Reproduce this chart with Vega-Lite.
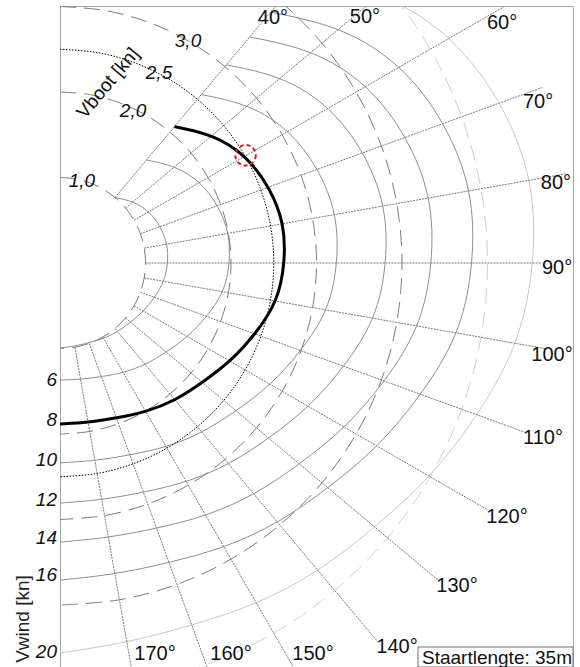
{
  "$schema": "https://vega.github.io/schema/vega-lite/v6.json",
  "width": 513,
  "height": 661,
  "padding": {"left": 60, "top": 6, "right": 7, "bottom": 0},
  "autosize": {"type": "none"},
  "config": {"view": {"stroke": "#a6a6a6", "strokeWidth": 1}, "font": "Liberation Sans"},
  "datasets": {
    "circles": [
      {"s":"c1","a":0,"x":0,"y":1},{"s":"c1","a":10,"x":0.174,"y":0.985},{"s":"c1","a":20,"x":0.342,"y":0.94},{"s":"c1","a":30,"x":0.5,"y":0.866},{"s":"c1","a":40,"x":0.643,"y":0.766},{"s":"c1","a":50,"x":0.766,"y":0.643},{"s":"c1","a":60,"x":0.866,"y":0.5},{"s":"c1","a":70,"x":0.94,"y":0.342},{"s":"c1","a":80,"x":0.985,"y":0.174},{"s":"c1","a":90,"x":1,"y":0},{"s":"c1","a":100,"x":0.985,"y":-0.174},{"s":"c1","a":110,"x":0.94,"y":-0.342},{"s":"c1","a":120,"x":0.866,"y":-0.5},{"s":"c1","a":130,"x":0.766,"y":-0.643},{"s":"c1","a":140,"x":0.643,"y":-0.766},{"s":"c1","a":150,"x":0.5,"y":-0.866},{"s":"c1","a":160,"x":0.342,"y":-0.94},{"s":"c1","a":170,"x":0.174,"y":-0.985},{"s":"c1","a":180,"x":0,"y":-1},
      {"s":"c2","a":0,"x":0,"y":2},{"s":"c2","a":10,"x":0.347,"y":1.97},{"s":"c2","a":20,"x":0.684,"y":1.879},{"s":"c2","a":30,"x":1,"y":1.732},{"s":"c2","a":40,"x":1.286,"y":1.532},{"s":"c2","a":50,"x":1.532,"y":1.286},{"s":"c2","a":60,"x":1.732,"y":1},{"s":"c2","a":70,"x":1.879,"y":0.684},{"s":"c2","a":80,"x":1.97,"y":0.347},{"s":"c2","a":90,"x":2,"y":0},{"s":"c2","a":100,"x":1.97,"y":-0.347},{"s":"c2","a":110,"x":1.879,"y":-0.684},{"s":"c2","a":120,"x":1.732,"y":-1},{"s":"c2","a":130,"x":1.532,"y":-1.286},{"s":"c2","a":140,"x":1.286,"y":-1.532},{"s":"c2","a":150,"x":1,"y":-1.732},{"s":"c2","a":160,"x":0.684,"y":-1.879},{"s":"c2","a":170,"x":0.347,"y":-1.97},{"s":"c2","a":180,"x":0,"y":-2},
      {"s":"c3","a":0,"x":0,"y":3},{"s":"c3","a":10,"x":0.521,"y":2.954},{"s":"c3","a":20,"x":1.026,"y":2.819},{"s":"c3","a":30,"x":1.5,"y":2.598},{"s":"c3","a":40,"x":1.928,"y":2.298},{"s":"c3","a":50,"x":2.298,"y":1.928},{"s":"c3","a":60,"x":2.598,"y":1.5},{"s":"c3","a":70,"x":2.819,"y":1.026},{"s":"c3","a":80,"x":2.954,"y":0.521},{"s":"c3","a":90,"x":3,"y":0},{"s":"c3","a":100,"x":2.954,"y":-0.521},{"s":"c3","a":110,"x":2.819,"y":-1.026},{"s":"c3","a":120,"x":2.598,"y":-1.5},{"s":"c3","a":130,"x":2.298,"y":-1.928},{"s":"c3","a":140,"x":1.928,"y":-2.298},{"s":"c3","a":150,"x":1.5,"y":-2.598},{"s":"c3","a":160,"x":1.026,"y":-2.819},{"s":"c3","a":170,"x":0.521,"y":-2.954},{"s":"c3","a":180,"x":0,"y":-3},
      {"s":"c4","a":0,"x":0,"y":4},{"s":"c4","a":10,"x":0.695,"y":3.939},{"s":"c4","a":20,"x":1.368,"y":3.759},{"s":"c4","a":30,"x":2,"y":3.464},{"s":"c4","a":40,"x":2.571,"y":3.064},{"s":"c4","a":50,"x":3.064,"y":2.571},{"s":"c4","a":60,"x":3.464,"y":2},{"s":"c4","a":70,"x":3.759,"y":1.368},{"s":"c4","a":80,"x":3.939,"y":0.695},{"s":"c4","a":90,"x":4,"y":0},{"s":"c4","a":100,"x":3.939,"y":-0.695},{"s":"c4","a":110,"x":3.759,"y":-1.368},{"s":"c4","a":120,"x":3.464,"y":-2},{"s":"c4","a":130,"x":3.064,"y":-2.571},{"s":"c4","a":140,"x":2.571,"y":-3.064},{"s":"c4","a":150,"x":2,"y":-3.464},{"s":"c4","a":160,"x":1.368,"y":-3.759},{"s":"c4","a":170,"x":0.695,"y":-3.939},{"s":"c4","a":180,"x":0,"y":-4},
      {"s":"c5","a":0,"x":0,"y":5},{"s":"c5","a":10,"x":0.868,"y":4.924},{"s":"c5","a":20,"x":1.71,"y":4.698},{"s":"c5","a":30,"x":2.5,"y":4.33},{"s":"c5","a":40,"x":3.214,"y":3.83},{"s":"c5","a":50,"x":3.83,"y":3.214},{"s":"c5","a":60,"x":4.33,"y":2.5},{"s":"c5","a":70,"x":4.698,"y":1.71},{"s":"c5","a":80,"x":4.924,"y":0.868},{"s":"c5","a":90,"x":5,"y":0},{"s":"c5","a":100,"x":4.924,"y":-0.868},{"s":"c5","a":110,"x":4.698,"y":-1.71},{"s":"c5","a":120,"x":4.33,"y":-2.5},{"s":"c5","a":130,"x":3.83,"y":-3.214},{"s":"c5","a":140,"x":3.214,"y":-3.83},{"s":"c5","a":150,"x":2.5,"y":-4.33},{"s":"c5","a":160,"x":1.71,"y":-4.698},{"s":"c5","a":170,"x":0.868,"y":-4.924},{"s":"c5","a":180,"x":0,"y":-5},
      {"s":"c25","a":0,"x":0,"y":2.5},{"s":"c25","a":10,"x":0.434,"y":2.462},{"s":"c25","a":20,"x":0.855,"y":2.349},{"s":"c25","a":30,"x":1.25,"y":2.165},{"s":"c25","a":40,"x":1.607,"y":1.915},{"s":"c25","a":50,"x":1.915,"y":1.607},{"s":"c25","a":60,"x":2.165,"y":1.25},{"s":"c25","a":70,"x":2.349,"y":0.855},{"s":"c25","a":80,"x":2.462,"y":0.434},{"s":"c25","a":90,"x":2.5,"y":0},{"s":"c25","a":100,"x":2.462,"y":-0.434},{"s":"c25","a":110,"x":2.349,"y":-0.855},{"s":"c25","a":120,"x":2.165,"y":-1.25},{"s":"c25","a":130,"x":1.915,"y":-1.607},{"s":"c25","a":140,"x":1.607,"y":-1.915},{"s":"c25","a":150,"x":1.25,"y":-2.165},{"s":"c25","a":160,"x":0.855,"y":-2.349},{"s":"c25","a":170,"x":0.434,"y":-2.462},{"s":"c25","a":180,"x":0,"y":-2.5}
    ],
    "rays": [
      {"a":40,"p":0,"x":0.643,"y":0.766},{"a":40,"p":1,"x":3.857,"y":4.596},
      {"a":50,"p":0,"x":0.766,"y":0.643},{"a":50,"p":1,"x":4.596,"y":3.857},
      {"a":60,"p":0,"x":0.866,"y":0.5},{"a":60,"p":1,"x":5.196,"y":3.0},
      {"a":70,"p":0,"x":0.94,"y":0.342},{"a":70,"p":1,"x":5.638,"y":2.052},
      {"a":80,"p":0,"x":0.985,"y":0.174},{"a":80,"p":1,"x":5.909,"y":1.042},
      {"a":90,"p":0,"x":1,"y":0},{"a":90,"p":1,"x":5.62,"y":0},
      {"a":100,"p":0,"x":0.985,"y":-0.174},{"a":100,"p":1,"x":5.692,"y":-1.004},
      {"a":110,"p":0,"x":0.94,"y":-0.342},{"a":110,"p":1,"x":5.431,"y":-1.977},
      {"a":120,"p":0,"x":0.866,"y":-0.5},{"a":120,"p":1,"x":5.006,"y":-2.89},
      {"a":130,"p":0,"x":0.766,"y":-0.643},{"a":130,"p":1,"x":4.428,"y":-3.715},
      {"a":140,"p":0,"x":0.643,"y":-0.766},{"a":140,"p":1,"x":3.715,"y":-4.428},
      {"a":150,"p":0,"x":0.5,"y":-0.866},{"a":150,"p":1,"x":3,"y":-5.196},
      {"a":160,"p":0,"x":0.342,"y":-0.94},{"a":160,"p":1,"x":2.052,"y":-5.638},
      {"a":170,"p":0,"x":0.174,"y":-0.985},{"a":170,"p":1,"x":1.042,"y":-5.909}
    ],
    "polars": [
      {"w":4,"a":40,"x":0.642,"y":0.765},{"w":4,"a":50,"x":0.86,"y":0.722},{"w":4,"a":60,"x":1.046,"y":0.604},{"w":4,"a":70,"x":1.176,"y":0.428},{"w":4,"a":80,"x":1.26,"y":0.222},{"w":4,"a":90,"x":1.263,"y":0},{"w":4,"a":100,"x":1.221,"y":-0.215},{"w":4,"a":110,"x":1.107,"y":-0.403},{"w":4,"a":120,"x":0.978,"y":-0.565},{"w":4,"a":130,"x":0.826,"y":-0.693},{"w":4,"a":140,"x":0.675,"y":-0.805},{"w":4,"a":150,"x":0.51,"y":-0.884},{"w":4,"a":160,"x":0.34,"y":-0.933},{"w":4,"a":170,"x":0.172,"y":-0.973},{"w":4,"a":180,"x":0,"y":-0.994},
      {"w":6,"a":40,"x":1.011,"y":1.205},{"w":6,"a":50,"x":1.354,"y":1.136},{"w":6,"a":60,"x":1.646,"y":0.95},{"w":6,"a":70,"x":1.851,"y":0.674},{"w":6,"a":80,"x":1.983,"y":0.35},{"w":6,"a":90,"x":1.988,"y":0},{"w":6,"a":100,"x":1.923,"y":-0.339},{"w":6,"a":110,"x":1.72,"y":-0.626},{"w":6,"a":120,"x":1.496,"y":-0.864},{"w":6,"a":130,"x":1.243,"y":-1.043},{"w":6,"a":140,"x":0.999,"y":-1.191},{"w":6,"a":150,"x":0.742,"y":-1.285},{"w":6,"a":160,"x":0.484,"y":-1.33},{"w":6,"a":170,"x":0.24,"y":-1.362},{"w":6,"a":180,"x":0,"y":-1.368},
      {"w":10,"a":40,"x":1.653,"y":1.97},{"w":10,"a":50,"x":2.214,"y":1.858},{"w":10,"a":60,"x":2.692,"y":1.554},{"w":10,"a":70,"x":3.027,"y":1.102},{"w":10,"a":80,"x":3.243,"y":0.572},{"w":10,"a":90,"x":3.251,"y":0},{"w":10,"a":100,"x":3.144,"y":-0.554},{"w":10,"a":110,"x":2.823,"y":-1.027},{"w":10,"a":120,"x":2.469,"y":-1.426},{"w":10,"a":130,"x":2.062,"y":-1.73},{"w":10,"a":140,"x":1.667,"y":-1.987},{"w":10,"a":150,"x":1.245,"y":-2.156},{"w":10,"a":160,"x":0.817,"y":-2.246},{"w":10,"a":170,"x":0.408,"y":-2.314},{"w":10,"a":180,"x":0,"y":-2.337},
      {"w":12,"a":40,"x":1.945,"y":2.318},{"w":12,"a":50,"x":2.605,"y":2.186},{"w":12,"a":60,"x":3.167,"y":1.828},{"w":12,"a":70,"x":3.562,"y":1.296},{"w":12,"a":80,"x":3.816,"y":0.673},{"w":12,"a":90,"x":3.825,"y":0},{"w":12,"a":100,"x":3.699,"y":-0.652},{"w":12,"a":110,"x":3.328,"y":-1.211},{"w":12,"a":120,"x":2.918,"y":-1.685},{"w":12,"a":130,"x":2.444,"y":-2.051},{"w":12,"a":140,"x":1.979,"y":-2.359},{"w":12,"a":150,"x":1.482,"y":-2.567},{"w":12,"a":160,"x":0.977,"y":-2.683},{"w":12,"a":170,"x":0.489,"y":-2.772},{"w":12,"a":180,"x":0,"y":-2.808},
      {"w":14,"a":40,"x":2.219,"y":2.644},{"w":14,"a":50,"x":2.971,"y":2.493},{"w":14,"a":60,"x":3.612,"y":2.085},{"w":14,"a":70,"x":4.063,"y":1.479},{"w":14,"a":80,"x":4.353,"y":0.767},{"w":14,"a":90,"x":4.363,"y":0},{"w":14,"a":100,"x":4.219,"y":-0.744},{"w":14,"a":110,"x":3.805,"y":-1.385},{"w":14,"a":120,"x":3.34,"y":-1.929},{"w":14,"a":130,"x":2.804,"y":-2.353},{"w":14,"a":140,"x":2.277,"y":-2.714},{"w":14,"a":150,"x":1.71,"y":-2.963},{"w":14,"a":160,"x":1.13,"y":-3.104},{"w":14,"a":170,"x":0.567,"y":-3.214},{"w":14,"a":180,"x":0,"y":-3.264},
      {"w":16,"a":40,"x":2.462,"y":2.934},{"w":16,"a":50,"x":3.297,"y":2.767},{"w":16,"a":60,"x":4.009,"y":2.314},{"w":16,"a":70,"x":4.509,"y":1.641},{"w":16,"a":80,"x":4.83,"y":0.852},{"w":16,"a":90,"x":4.842,"y":0},{"w":16,"a":100,"x":4.683,"y":-0.826},{"w":16,"a":110,"x":4.231,"y":-1.54},{"w":16,"a":120,"x":3.726,"y":-2.151},{"w":16,"a":130,"x":3.138,"y":-2.633},{"w":16,"a":140,"x":2.555,"y":-3.045},{"w":16,"a":150,"x":1.925,"y":-3.333},{"w":16,"a":160,"x":1.276,"y":-3.506},{"w":16,"a":170,"x":0.642,"y":-3.643},{"w":16,"a":180,"x":0,"y":-3.709},
      {"w":20,"a":40,"x":2.825,"y":3.366},{"w":20,"a":50,"x":3.784,"y":3.175},{"w":20,"a":60,"x":4.6,"y":2.656},{"w":20,"a":70,"x":5.174,"y":1.883},{"w":20,"a":80,"x":5.543,"y":0.977},{"w":20,"a":90,"x":5.556,"y":0},{"w":20,"a":100,"x":5.373,"y":-0.947},{"w":20,"a":110,"x":4.892,"y":-1.781},{"w":20,"a":120,"x":4.34,"y":-2.506},{"w":20,"a":130,"x":3.685,"y":-3.092},{"w":20,"a":140,"x":3.03,"y":-3.611},{"w":20,"a":150,"x":2.306,"y":-3.993},{"w":20,"a":160,"x":1.543,"y":-4.239},{"w":20,"a":170,"x":0.783,"y":-4.443},{"w":20,"a":180,"x":0,"y":-4.561}
    ],
    "thick": [
      {"a":40,"x":1.338,"y":1.595},{"a":50,"x":1.792,"y":1.503},{"a":60,"x":2.178,"y":1.258},{"a":70,"x":2.451,"y":0.892},{"a":80,"x":2.626,"y":0.463},{"a":90,"x":2.632,"y":0},{"a":100,"x":2.546,"y":-0.449},{"a":110,"x":2.286,"y":-0.832},{"a":120,"x":1.995,"y":-1.152},{"a":130,"x":1.666,"y":-1.398},{"a":140,"x":1.35,"y":-1.609},{"a":150,"x":1.006,"y":-1.742},{"a":160,"x":0.66,"y":-1.814},{"a":170,"x":0.329,"y":-1.866},{"a":180,"x":0,"y":-1.883}
    ],
    "deg": [
      {"t":"40°","x":2.491,"y":2.865},{"t":"50°","x":3.567,"y":2.877},{"t":"60°","x":5.17,"y":2.807},{"t":"70°","x":5.591,"y":1.883},{"t":"80°","x":5.801,"y":0.936},{"t":"90°","x":5.813,"y":-0.058},{"t":"100°","x":5.754,"y":-1.076},{"t":"110°","x":5.649,"y":-2.047},{"t":"120°","x":5.228,"y":-2.971},{"t":"130°","x":4.643,"y":-3.778},{"t":"140°","x":3.942,"y":-4.491},{"t":"150°","x":2.959,"y":-4.573},{"t":"160°","x":2.0,"y":-4.573},{"t":"170°","x":1.111,"y":-4.573}
    ],
    "wind": [
      {"t":"6","x":0,"y":-1.368},{"t":"8","x":0,"y":-1.836},{"t":"10","x":0,"y":-2.304},{"t":"12","x":0,"y":-2.772},{"t":"14","x":0,"y":-3.216},{"t":"16","x":0,"y":-3.649},{"t":"20","x":0,"y":-4.55}
    ],
    "boot": [
      {"t":"1,0","x":0.257,"y":0.959},{"t":"2,0","x":0.854,"y":1.778},{"t":"2,5","x":1.158,"y":2.222},{"t":"3,0","x":1.497,"y":2.596}
    ]
  },
  "encoding": {
    "x": {"field": "x", "type": "quantitative", "scale": {"domain": [0, 6], "nice": false, "zero": false}, "axis": null},
    "y": {"field": "y", "type": "quantitative", "scale": {"domain": [-4.725, 3.006], "nice": false, "zero": false}, "axis": null}
  },
  "layer": [
    {
      "data": {"name": "polars"},
      "transform": [{"filter": "datum.w != 20"}],
      "mark": {"type": "line", "interpolate": "basis", "clip": true, "color": "#8f8f8f", "strokeWidth": 1},
      "encoding": {"detail": {"field": "w"}, "order": {"field": "a", "type": "quantitative"}}
    },
    {
      "data": {"name": "polars"},
      "transform": [{"filter": "datum.w == 20"}],
      "mark": {"type": "line", "interpolate": "basis", "clip": true, "color": "#c8c8c8", "strokeWidth": 1},
      "encoding": {"order": {"field": "a", "type": "quantitative"}}
    },
    {
      "data": {"name": "circles"},
      "transform": [{"filter": "datum.s == 'c1' || datum.s == 'c2' || datum.s == 'c3' || datum.s == 'c4'"}],
      "mark": {"type": "line", "interpolate": "catmull-rom", "clip": true, "color": "#7d7d7d", "strokeWidth": 1, "strokeDash": [16, 8]},
      "encoding": {"detail": {"field": "s"}, "order": {"field": "a", "type": "quantitative"}}
    },
    {
      "data": {"name": "circles"},
      "transform": [{"filter": "datum.s == 'c5'"}],
      "mark": {"type": "line", "interpolate": "catmull-rom", "clip": true, "color": "#d0d0d0", "strokeWidth": 1, "strokeDash": [16, 8]},
      "encoding": {"order": {"field": "a", "type": "quantitative"}}
    },
    {
      "data": {"name": "rays"},
      "mark": {"type": "line", "clip": true, "color": "#7a7a7a", "strokeWidth": 1, "strokeDash": [2, 1]},
      "encoding": {"detail": {"field": "a"}, "order": {"field": "p", "type": "quantitative"}}
    },
    {
      "data": {"name": "circles"},
      "transform": [{"filter": "datum.s == 'c25'"}],
      "mark": {"type": "line", "interpolate": "catmull-rom", "clip": true, "color": "#000000", "strokeWidth": 1, "strokeDash": [1.5, 1.5]},
      "encoding": {"order": {"field": "a", "type": "quantitative"}}
    },
    {
      "data": {"name": "thick"},
      "mark": {"type": "line", "interpolate": "basis", "clip": true, "color": "#000000", "strokeWidth": 3},
      "encoding": {"order": {"field": "a", "type": "quantitative"}}
    },
    {
      "data": {"values": [{"x": 2.17, "y": 1.26}]},
      "mark": {"type": "point", "shape": "circle", "filled": false, "size": 420, "stroke": "#e8131b", "strokeWidth": 2, "strokeDash": [4, 3], "opacity": 1}
    },
    {
      "data": {"name": "deg"},
      "mark": {"type": "text", "fontSize": 20, "align": "center", "baseline": "middle", "color": "#111111"},
      "encoding": {"text": {"field": "t"}}
    },
    {
      "data": {"name": "wind"},
      "mark": {"type": "text", "fontSize": 19, "fontStyle": "italic", "align": "right", "baseline": "middle", "dx": -3, "color": "#111111"},
      "encoding": {"text": {"field": "t"}}
    },
    {
      "data": {"name": "boot"},
      "mark": {"type": "text", "fontSize": 19, "fontStyle": "italic", "align": "center", "baseline": "middle", "color": "#111111"},
      "encoding": {"text": {"field": "t"}}
    },
    {
      "data": {"values": [{"t": "Vboot [kn]", "x": 0.561, "y": 2.105}]},
      "mark": {"type": "text", "fontSize": 19, "angle": 310, "align": "center", "baseline": "middle", "color": "#111111"},
      "encoding": {"text": {"field": "t"}}
    },
    {
      "data": {"values": [{"t": "Vwind [kn]", "x": -0.433, "y": -4.164}]},
      "mark": {"type": "text", "fontSize": 19, "angle": 270, "align": "center", "baseline": "middle", "color": "#222222"},
      "encoding": {"text": {"field": "t"}}
    },
    {
      "data": {"values": [{"x": 4.187, "x2": 6.0, "y": -4.491, "y2": -4.725}]},
      "mark": {"type": "rect", "fill": "#ffffff", "stroke": "#707070", "strokeWidth": 1},
      "encoding": {"x2": {"field": "x2"}, "y2": {"field": "y2"}}
    },
    {
      "data": {"values": [{"t": "Staartlengte: 35m", "x": 4.234, "y": -4.62}]},
      "mark": {"type": "text", "fontSize": 19, "align": "left", "baseline": "middle", "color": "#111111"},
      "encoding": {"text": {"field": "t"}}
    }
  ]
}
